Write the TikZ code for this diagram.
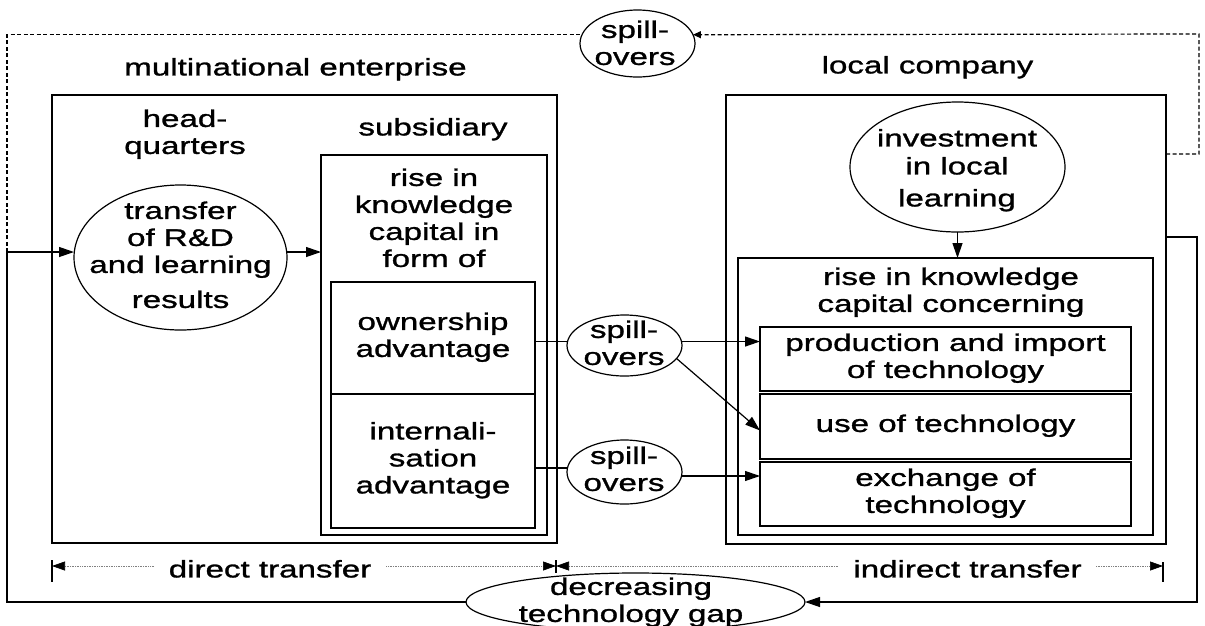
\documentclass[tikz,border=0pt]{standalone}
\usepackage{fontspec}
\setmainfont{Liberation Sans}[FakeStretch=1.38,FakeBold=1.2]
\usetikzlibrary{arrows.meta,shapes.geometric}
\tikzset{
  box/.style={draw, rectangle, line width=1.3pt, inner sep=0pt, outer sep=0pt, align=center, font=\fontsize{24}{27}\selectfont},
  oval/.style={draw, ellipse, line width=1.2pt, inner sep=0pt, outer sep=0pt},
  lbl/.style={align=center, inner sep=0pt, font=\fontsize{24}{27}\selectfont},
  conn/.style={line width=1.2pt},
  arr/.style={conn, -{Triangle[length=15pt,width=10pt]}},
  dashline/.style={line width=1.2pt, dash pattern=on 4pt off 2.5pt},
  dimline/.style={line width=0.7pt, gray, densely dotted, {Triangle[length=13pt,width=9pt,color=black]}-{Triangle[length=13pt,width=9pt,color=black]}},
  dimbar/.style={line width=1.2pt},
  gaplbl/.style={lbl, fill=white, inner xsep=14pt, inner ysep=2pt}
}
\begin{document}
\begin{tikzpicture}[x=1pt,y=-1pt]
\useasboundingbox (0,0) rectangle (1205,625);

% boxes
\node[box, minimum width=505pt, minimum height=448pt] (mne) at (304.5,319) {};
\node[box, minimum width=226pt, minimum height=380pt] (sub) at (434,345) {};
\node[box, minimum width=204pt, minimum height=112pt] (own) at (433,338) {\strut ownership\\\strut advantage};
\node[box, minimum width=204pt, minimum height=134pt] (intern) at (433,461) {\strut internali-\\\strut sation\\\strut advantage};
\node[box, minimum width=440pt, minimum height=449pt] (local) at (946,319.5) {};
\node[box, minimum width=415pt, minimum height=277pt] (inner) at (945.5,396.5) {};
\node[box, minimum width=371pt, minimum height=64pt] (prod) at (945.5,359) {\strut production and import\\\strut of technology};
\node[box, minimum width=371pt, minimum height=65pt] (use) at (945.5,426.5) {\strut use of technology};
\node[box, minimum width=371pt, minimum height=64pt] (exch) at (945.5,494) {\strut exchange of\\\strut technology};

% ellipses
\node[oval, minimum width=213pt, minimum height=145pt] (trans) at (180.5,257.5) {};
\node[oval, minimum width=115pt, minimum height=67pt] (spillT) at (637.5,43.5) {};
\node[oval, minimum width=115pt, minimum height=61pt] (spill1) at (624.5,345.5) {};
\node[oval, minimum width=115pt, minimum height=64pt] (spill2) at (624.5,472) {};
\node[oval, minimum width=215pt, minimum height=130pt] (inv) at (957.5,167) {};
\node[oval, minimum width=339pt, minimum height=58pt] (dec) at (635.5,602) {};

% texts
\node[lbl] (tmne) at (295.5,70) {\strut multinational enterprise};
\node[lbl] (tlocal) at (927.5,68) {\strut local company};
\node[lbl] (thq) at (185,135) {\strut head-\\\strut quarters};
\node[lbl] (tsub) at (433,130) {\strut subsidiary};
\node[lbl] (tsubtxt) at (434,221) {\strut rise in\\\strut knowledge\\\strut capital in\\\strut form of};
\node[lbl] (ttrans) at (180.5,258) {\strut transfer\\\strut of R\&D\\\strut and learning\\[8pt]\strut results};
\node[lbl] (tspT) at (635,46) {\strut spill-\\\strut overs};
\node[lbl] (tsp1) at (624,346) {\strut spill-\\\strut overs};
\node[lbl] (tsp2) at (624,472) {\strut spill-\\\strut overs};
\node[lbl] (tinv) at (957,171) {\strut investment\\[1pt]\strut in local\\[5pt]\strut learning};
\node[lbl] (tinner) at (951,293) {\strut rise in knowledge\\\strut capital concerning};
\node[lbl] (tdec) at (631,603) {\strut decreasing\\\strut technology gap};

% coordinates
\coordinate (j) at (7,252);
\coordinate (tr) at (1199,34);
\coordinate (lcA) at (1166,154);
\coordinate (lcB) at (1166,237);
\coordinate (rc) at (1197,602);
\coordinate (dL) at (52,566);
\coordinate (dM) at (556,566);
\coordinate (dR) at (1163,566);

% dashed spill-over loop
\draw[dashline] (j) |- (spillT.171);
\draw[dashline, -{Triangle[length=8pt,width=7pt]}] (lcA) -| (tr) -- (spillT.9);

% solid feedback loop
\draw[arr] (dec.west) -| (j) -- (trans.west |- j);
\draw[arr] (lcB) -| (rc) -- (dec.east);

% inner connectors
\draw[arr] (trans.east |- j) -- (sub.west |- j);
\draw[arr] (inv.south) -- (inv.south |- inner.north);
\draw[conn] (own.east |- spill1.176) -- (spill1.176);
\draw[arr] (spill1.4) -- (prod.west |- spill1.4);
\draw[arr] (spill1.-14) -- ([yshift=-4pt]use.west);
\draw[conn] (intern.east |- spill2.176) -- (spill2.176);
\draw[arr] (spill2.-4) -- (exch.west |- spill2.-4);

% dimension lines
\draw[dimline] (dL) -- (dM);
\draw[dimline] (dM) -- (dR);
\draw[dimbar] ([yshift=6pt]dL) -- ([yshift=-16pt]dL);
\draw[dimbar] ([yshift=6pt]dM) -- ([yshift=-7pt]dM);
\draw[dimbar] ([yshift=4pt]dR) -- ([yshift=-16pt]dR);
\node[gaplbl] (tdirect) at (270,572) {\strut direct transfer};
\node[gaplbl] (tindirect) at (967.5,572) {\strut indirect transfer};
\end{tikzpicture}
\end{document}
